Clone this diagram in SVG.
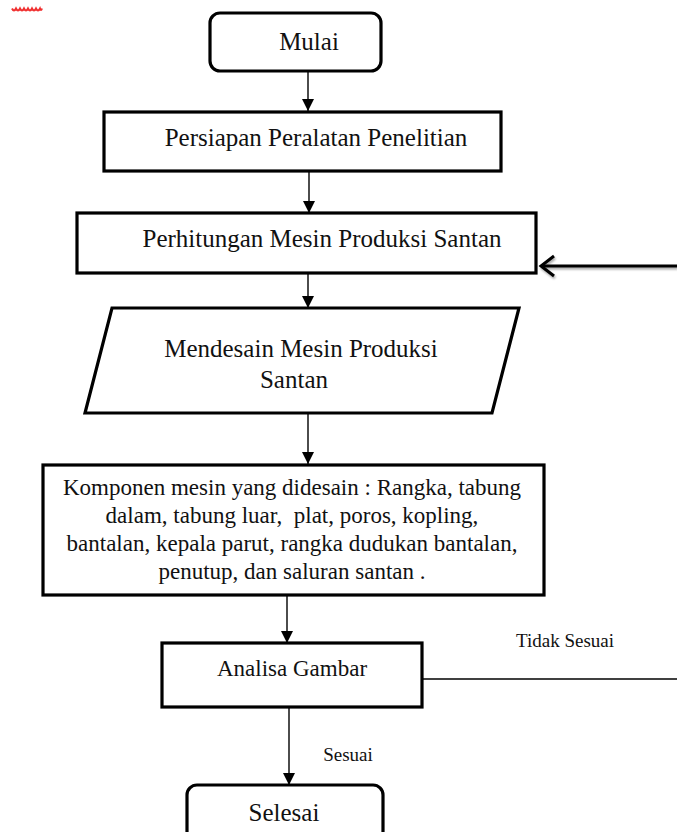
<svg xmlns="http://www.w3.org/2000/svg" width="677" height="832" viewBox="0 0 677 832">
<style>
.box{fill:#fff;stroke:#000;stroke-width:3.2;stroke-linejoin:miter}
.t{font-family:"Liberation Serif","Times New Roman",serif;fill:#111;text-anchor:middle;white-space:pre}
.f25{font-size:25px}
.f23{font-size:23px}
.f19{font-size:19px}
.con{fill:none;stroke:#000;stroke-width:1.4}
</style>
<defs>
<marker id="ah" markerUnits="userSpaceOnUse" markerWidth="12" markerHeight="14" refX="12" refY="6" orient="auto">
<path d="M0,0 L12,6 L0,12 Z" fill="#000"/>
</marker>
<filter id="sh" x="-5%" y="-50%" width="110%" height="200%">
<feGaussianBlur in="SourceAlpha" stdDeviation="1.2"/>
<feOffset dx="1" dy="2" result="o"/>
<feComponentTransfer><feFuncA type="linear" slope="0.35"/></feComponentTransfer>
<feMerge><feMergeNode/><feMergeNode in="SourceGraphic"/></feMerge>
</filter>
</defs>
<path d="M12,8.5 q2,4 4,0 q2,4 4,0 q2,4 4,0 q2,4 4,0 q2,4 4,0 q2,4 4,0 q2,4 4,0 q1,3 2,0" fill="none" stroke="#f03030" stroke-width="2"/>
<g id="connectors">
<line class="con" x1="308" y1="71" x2="308" y2="111" marker-end="url(#ah)"/>
<line class="con" x1="309" y1="171" x2="309" y2="213" marker-end="url(#ah)"/>
<line class="con" x1="308" y1="274" x2="308" y2="308" marker-end="url(#ah)"/>
<line class="con" x1="308" y1="414" x2="308" y2="464" marker-end="url(#ah)"/>
<line class="con" x1="287" y1="595" x2="287" y2="643" marker-end="url(#ah)"/>
<line class="con" x1="289" y1="707" x2="289" y2="785" marker-end="url(#ah)"/>
<line class="con" x1="422" y1="679" x2="677" y2="679"/>
<g filter="url(#sh)">
<line x1="677" y1="266" x2="541" y2="266" stroke="#000" stroke-width="3"/>
<path d="M554,256 L541,266 L554,276" fill="none" stroke="#000" stroke-width="3"/>
</g>
<text class="t f19" x="565" y="647">Tidak Sesuai</text>
<text class="t f19" x="348" y="761">Sesuai</text>
</g>
<g id="mulai">
<rect class="box" x="210" y="13" width="171" height="58" rx="10"/>
<text class="t f25" x="309" y="50">Mulai</text>
</g>
<g id="persiapan">
<rect class="box" x="104" y="112" width="397" height="59"/>
<text class="t f25" x="316" y="146">Persiapan Peralatan Penelitian</text>
</g>
<g id="perhitungan">
<rect class="box" x="77" y="213" width="459" height="60"/>
<text class="t f25" x="322" y="247">Perhitungan Mesin Produksi Santan</text>
</g>
<g id="mendesain">
<polygon class="box" points="112,308 519,308 492,413 85,413"/>
<text class="t f25" x="301" y="357">Mendesain Mesin Produksi</text>
<text class="t f25" x="294" y="388">Santan</text>
</g>
<g id="komponen">
<rect class="box" x="43" y="465" width="501" height="130"/>
<text class="t f23" x="292" y="495">Komponen mesin yang didesain : Rangka, tabung</text>
<text class="t f23" x="292" y="523">dalam, tabung luar,  plat, poros, kopling,</text>
<text class="t f23" x="292" y="551">bantalan, kepala parut, rangka dudukan bantalan,</text>
<text class="t f23" x="292" y="579">penutup, dan saluran santan .</text>
</g>
<g id="analisa">
<rect class="box" x="162" y="643" width="260" height="64"/>
<text class="t f23" x="292" y="676">Analisa Gambar</text>
</g>
<g id="selesai">
<rect class="box" x="187" y="785" width="196" height="62" rx="10"/>
<text class="t f25" x="284" y="821">Selesai</text>
</g>
</svg>
